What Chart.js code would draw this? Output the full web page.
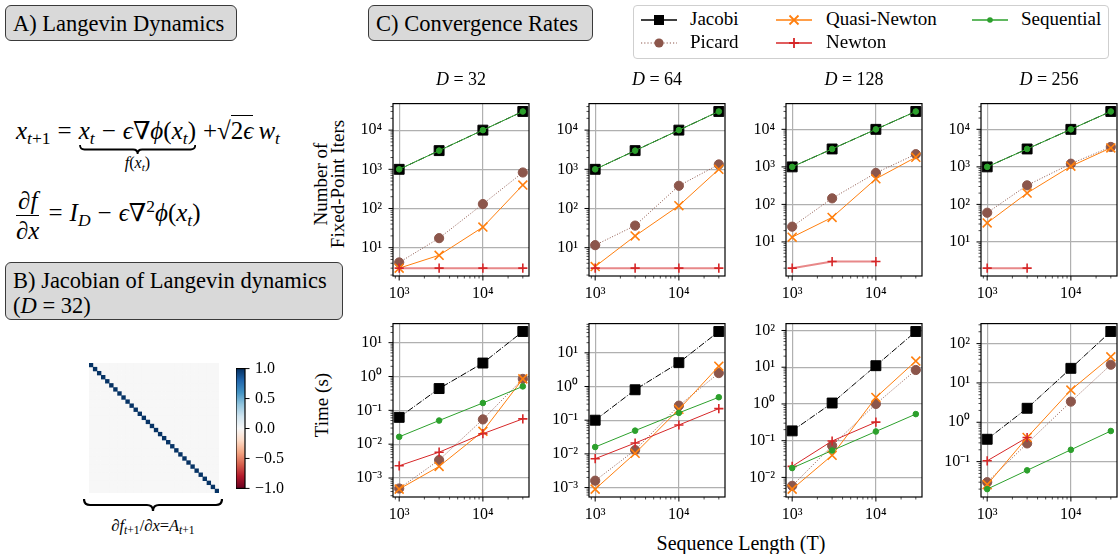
<!DOCTYPE html>
<html lang="en">
<head>
  <meta charset="UTF-8">
  <title>Langevin Dynamics - Convergence Rates</title>
  <script src="https://cdn.jsdelivr.net/npm/chart.js"></script>
  <style>
    body { margin: 0; background: #fff; }
    #fig {
      position: relative; width: 1118px; height: 554px; overflow: hidden;
      font-family: 'Liberation Serif', 'DejaVu Serif', serif; color: #000;
    }
    #fig canvas { position: absolute; }
    .tag {
      position: absolute; background: #d9d9d9; border: 1.6px solid #3a3a3a; border-radius: 6px;
      font-size: 22.5px; line-height: 25px; padding: 5px 7px 4px 7px; white-space: nowrap; box-sizing: border-box;
    }
    .txt { position: absolute; white-space: nowrap; }
    .eq { position: absolute; font-size: 25px; line-height: 28px; white-space: nowrap; }
    .op { margin: 0 0.28em; }
    sub { font-size: 70%; vertical-align: -0.28em; line-height: 0; }
    sup { font-size: 70%; vertical-align: 0.5em; line-height: 0; }
    .frac { display: inline-flex; flex-direction: column; align-items: center; vertical-align: middle; line-height: 29px; margin-right: 2px; }
    .frac .num { border-bottom: 1.3px solid #000; padding: 0 2px; }
    .ovl { border-top: 1.3px solid #000; padding-top: 1px; }
    .legend {
      position: absolute; left: 633px; top: 5px; width: 476px; height: 54px;
      border: 1px solid #cfcfcf; border-radius: 4px; box-sizing: border-box; background: #fff;
    }
    .lg-text { position: absolute; font-size: 19px; line-height: 20px; }
    .lg-icon { position: absolute; }
    .rot { position: absolute; transform: rotate(-90deg); text-align: center; font-size: 19px; line-height: 17px; }
    .title { position: absolute; font-size: 18px; text-align: center; width: 136px; }
  </style>
</head>
<body>
<div id="fig">
  <div class="tag" style="left:5px; top:5px; width:232px; height:36px;">A) Langevin Dynamics</div>
  <div class="tag" style="left:368px; top:5px; width:225px; height:36px;">C) Convergence Rates</div>
  <div class="tag" style="left:5px; top:262px; width:338px; height:58px;">B) Jacobian of Langevin dynamics<br>(<i>D</i> = 32)</div>

  <div class="eq" style="left:16px; top:117px;">
    <i>x</i><sub><i>t</i>+1</sub><span class="op">=</span><span id="ubr"><i>x</i><sub><i>t</i></sub><span class="op">−</span><i>ϵ</i>∇<i>ϕ</i>(<i>x</i><sub><i>t</i></sub>)</span><span class="op" style="margin-right:0">+</span>√<span class="ovl">2<i>ϵ</i></span>&thinsp;<i>w</i><sub><i>t</i></sub>
  </div>
  <div class="txt" id="ubrLabel" style="font-size:16px;"><i>f</i>(<i>x</i><sub><i>t</i></sub>)</div>

  <div class="eq" style="left:16px; top:186px;">
    <span class="frac"><span class="num">∂<i>f</i></span><span>∂<i>x</i></span></span><span class="op">=</span><i>I</i><sub><i>D</i></sub><span class="op">−</span><i>ϵ</i>∇<sup>2</sup><i>ϕ</i>(<i>x</i><sub><i>t</i></sub>)
  </div>

  <div class="txt" id="jacLabel" style="font-size:16.5px; left:82px; width:142px; text-align:center; top:516px;">∂<i>f</i><sub><i>t</i>+1</sub>/∂<i>x</i>=<i>A</i><sub><i>t</i>+1</sub></div>

  <div class="legend"></div>

  <div class="rot" style="left:255px; top:166px; width:150px; height:36px;">Number of<br>Fixed-Point Iters</div>
  <div class="rot" style="left:282px; top:396px; width:80px; height:18px;">Time (s)</div>
  <div class="txt" style="left:641px; top:532px; width:200px; text-align:center; font-size:20px;">Sequence Length (T)</div>
</div>

<script>
  // ---- data ----
  const seqLengths = [1000, 3000, 10000, 30000];
  const dimLabels = ['32', '64', '128', '256'];

  // number of fixed-point iterations, one row per D
  const iterJacobi = [[1000, 3000, 10000, 30000], [1000, 3000, 10000, 30000], [1000, 3000, 10000, 30000], [1000, 3000, 10000, 30000]];
  const iterPicard = [[4.2, 17.5, 130, 830], [11.6, 36.6, 380, 1330], [25.5, 145, 690, 2180], [60, 322, 1215, 3400]];
  const iterQuasi = [[3, 6.4, 33.5, 396], [3.3, 19.9, 118, 1000], [13.4, 45, 480, 1800], [32, 200, 1040, 3200]];
  const iterNewton = [[3, 3, 3, 3], [3, 3, 3, 3], [2, 3, 3, null], [2, 2, null, null]];
  const iterSequential = [[1000, 3000, 10000, 30000], [1000, 3000, 10000, 30000], [1000, 3000, 10000, 30000], [1000, 3000, 10000, 30000]];

  // wall-clock time (s), one row per D
  const timeJacobi = [[0.062, 0.44, 2.5, 21.4], [0.1, 0.8, 5.1, 43], [0.185, 1.06, 11, 94], [0.37, 2.27, 23.5, 203]];
  const timePicard = [[0.00049, 0.0034, 0.054, 0.85], [0.0016, 0.013, 0.27, 2.5], [0.0059, 0.073, 1.0, 8.4], [0.03, 0.29, 3.35, 29]];
  const timeQuasi = [[0.00047, 0.0022, 0.024, 0.85], [0.0009, 0.0104, 0.21, 4], [0.0048, 0.04, 1.5, 14.7], [0.026, 0.41, 6.6, 46]];
  const timeNewton = [[0.0023, 0.0058, 0.0204, 0.056], [0.0072, 0.021, 0.072, 0.22], [0.02, 0.098, 0.32, null], [0.105, 0.41, null, null]];
  const timeSequential = [[0.0165, 0.05, 0.165, 0.51], [0.016, 0.049, 0.165, 0.48], [0.018, 0.054, 0.178, 0.53], [0.02, 0.06, 0.2, 0.6]];

  // Jacobian diagonal (D = 32), off-diagonal entries are 0
  const jacDiag = [0.99, 0.99, 0.99, 0.99, 0.99, 1.0, 0.99, 0.99, 0.99, 0.99, 0.99, 0.99, 0.99, 0.99, 0.99, 0.99,
                   0.99, 0.99, 0.99, 0.99, 0.99, 0.99, 0.99, 0.99, 1.0, 0.99, 0.99, 0.99, 0.99, 0.99, 0.99, 0.99];
  const cbarTicks = [-1.0, -0.5, 0.0, 0.5, 1.0];

  // ---- styles ----
  const RDBU = ['#67001f', '#b2182b', '#d6604d', '#f4a582', '#fddbc7', '#f7f7f7', '#d1e5f0', '#92c5de', '#4393c3', '#2166ac', '#053061'];
  const methods = [
    { name: 'Jacobi', iters: iterJacobi, time: timeJacobi, color: '#000000', point: 'rect', r: 7, pw: 1, dash: [6.4, 1.6, 1, 1.6], order: 5 },
    { name: 'Picard', iters: iterPicard, time: timePicard, color: '#8c564b', point: 'circle', r: 4.6, pw: 1, dash: [1, 1.7], order: 4 },
    { name: 'Quasi-Newton', iters: iterQuasi, time: timeQuasi, color: '#ff7f0e', point: 'crossRot', r: 6.3, pw: 1.6, dash: [], order: 3 },
    { name: 'Newton', iters: iterNewton, time: timeNewton, color: '#d62728', point: 'cross', r: 4.6, pw: 1.6, dash: [], order: 2 },
    { name: 'Sequential', iters: iterSequential, time: timeSequential, color: '#2ca02c', point: 'circle', r: 2.8, pw: 1, dash: [], order: 1 },
  ];

  const COL_LEFT = [393, 589, 786, 981];
  const AX_W = 136;
  const ROW_TOP = [95, 315];
  const ROW_H = [181, 182];
  const FONT = 'Liberation Serif';
  const fig = document.getElementById('fig');

  const SUP = { '-': '⁻', '0': '⁰', '1': '¹', '2': '²', '3': '³', '4': '⁴', '5': '⁵', '6': '⁶', '7': '⁷', '8': '⁸', '9': '⁹' };

  function hexToRgb(h) {
    return [parseInt(h.slice(1, 3), 16), parseInt(h.slice(3, 5), 16), parseInt(h.slice(5, 7), 16)];
  }

  function rdbu(v) {
    const t = Math.max(0, Math.min(1, (v + 1) / 2)) * (RDBU.length - 1);
    const i = Math.min(Math.floor(t), RDBU.length - 2), f = t - i;
    const a = hexToRgb(RDBU[i]), b = hexToRgb(RDBU[i + 1]);
    return 'rgb(' + a.map((c, k) => Math.round(c + (b[k] - c) * f)).join(',') + ')';
  }

  function logLimits(values) {
    const logs = values.map(Math.log10);
    const lo = Math.min(...logs), hi = Math.max(...logs), pad = 0.05 * (hi - lo);
    return [Math.pow(10, lo - pad), Math.pow(10, hi + pad)];
  }

  function decadeTicks(scale) {
    const lo = Math.floor(Math.log10(scale.min)), hi = Math.ceil(Math.log10(scale.max));
    const ticks = [];
    for (let e = lo; e <= hi; e++) {
      for (let m = 1; m <= 9; m++) {
        const v = parseFloat((m * Math.pow(10, e)).toPrecision(6));
        if (v >= scale.min && v <= scale.max) ticks.push({ value: v, major: m === 1 });
      }
    }
    scale.ticks = ticks;
  }

  function powLabel(value, i, ticks) {
    if (!ticks[i].major) return '';
    const e = Math.round(Math.log10(value));
    return '10' + String(e).split('').map(c => SUP[c]).join('');
  }

  // axes frame + outward tick marks (major longer than minor)
  const framePlugin = {
    id: 'frame',
    afterDraw(chart) {
      const { ctx, chartArea: a, scales } = chart;
      ctx.save();
      ctx.strokeStyle = '#000';
      Object.values(scales).forEach(s => {
        if (!s.options.display || s.type === 'category') return;
        s.ticks.forEach(t => {
          const p = s.getPixelForValue(t.value);
          const len = t.major ? 4.5 : 2.5;
          ctx.lineWidth = t.major ? 1 : 0.7;
          ctx.beginPath();
          if (s.position === 'bottom') { ctx.moveTo(p, a.bottom); ctx.lineTo(p, a.bottom + len); }
          else if (s.position === 'left') { ctx.moveTo(a.left, p); ctx.lineTo(a.left - len, p); }
          else { ctx.moveTo(a.right, p); ctx.lineTo(a.right + len, p); }
          ctx.stroke();
        });
      });
      ctx.lineWidth = 1.2;
      ctx.strokeRect(a.left, a.top, a.right - a.left, a.bottom - a.top);
      ctx.restore();
    }
  };

  function logAxis(min, max, isY, size) {
    return {
      type: 'logarithmic', min, max, position: isY ? 'left' : 'bottom',
      afterBuildTicks: decadeTicks,
      afterFit: s => { if (isY) s.width = size; else s.height = size; },
      border: { display: false },
      grid: {
        color: c => (c.tick && c.tick.major ? '#b0b0b0' : 'rgba(0,0,0,0)'),
        lineWidth: 1.2,
        drawTicks: false,
      },
      ticks: {
        autoSkip: false, maxRotation: 0, minRotation: 0,
        padding: isY ? 11 : 8, color: '#000',
        font: { family: FONT, size: 16 },
        callback: powLabel,
      },
    };
  }

  function addCanvas(left, top, w, h) {
    const cv = document.createElement('canvas');
    cv.width = w; cv.height = h;
    cv.style.left = left + 'px'; cv.style.top = top + 'px';
    cv.style.width = w + 'px'; cv.style.height = h + 'px';
    fig.appendChild(cv);
    return cv;
  }

  function seriesPoints(vals) {
    return seqLengths.map((t, i) => ({ x: t, y: vals[i] })).filter(p => p.y !== null);
  }

  function makePanel(col, row) {
    const YW = 56, PT = 12, PR = 12, XH = 32;
    const w = AX_W, h = ROW_H[row];
    const cv = addCanvas(COL_LEFT[col] - YW, ROW_TOP[row] - PT, w + YW + PR, h + PT + XH);
    const key = row === 0 ? 'iters' : 'time';

    const datasets = methods.map(m => {
      const faded = row === 0 && m.name === 'Newton';
      return {
        label: m.name,
        data: seriesPoints(m[key][col]),
        borderColor: faded ? 'rgba(214,39,40,0.55)' : m.color,
        borderWidth: faded ? 2 : 1,
        borderDash: m.dash,
        pointStyle: m.point,
        pointRadius: m.r,
        pointBorderWidth: m.pw,
        pointBackgroundColor: m.color,
        pointBorderColor: m.color,
        order: m.order,
        tension: 0,
      };
    });

    const allY = datasets.flatMap(d => d.data.map(p => p.y));
    const [ymin, ymax] = logLimits(allY);
    const [xmin, xmax] = logLimits(seqLengths);

    new Chart(cv, {
      type: 'line',
      data: { datasets },
      options: {
        responsive: false, animation: false, events: [],
        layout: { padding: { top: PT, right: PR, left: 0, bottom: 0 } },
        plugins: { legend: { display: false }, tooltip: { enabled: false } },
        scales: {
          x: logAxis(xmin, xmax, false, XH),
          y: logAxis(ymin, ymax, true, YW),
        },
      },
      plugins: [framePlugin],
    });
  }

  function makeHeatmap() {
    const N = jacDiag.length;
    const cv = addCanvas(85, 359, 138, 138);
    const cell = 138 / N;
    const offDiag = [], diag = [];
    for (let i = 0; i < N; i++) {
      for (let j = 0; j < N; j++) {
        if (i === j) diag.push({ x: j, y: i, v: jacDiag[i] });
        else offDiag.push({ x: j, y: i, v: 0 });
      }
    }
    const cellSet = (data, r, order) => ({
      data, pointStyle: 'rect', pointRadius: r, pointBorderWidth: 0, showLine: false, order,
      pointBackgroundColor: c => rdbu(c.raw.v), pointBorderColor: 'rgba(0,0,0,0)',
    });
    new Chart(cv, {
      type: 'scatter',
      data: { datasets: [cellSet(offDiag, cell * 0.75, 2), cellSet(diag, cell * 0.72, 1)] },
      options: {
        responsive: false, animation: false, events: [],
        layout: { padding: 0 },
        plugins: { legend: { display: false }, tooltip: { enabled: false } },
        scales: {
          x: { type: 'linear', min: -0.5, max: N - 0.5, display: false },
          y: { type: 'linear', min: -0.5, max: N - 0.5, reverse: true, display: false },
        },
      },
    });
  }

  function makeColorbar() {
    const cv = addCanvas(236, 349, 9 + 60, 139 + 20);
    new Chart(cv, {
      type: 'bar',
      data: {
        labels: [''],
        datasets: [{
          data: [[cbarTicks[0], cbarTicks[cbarTicks.length - 1]]],
          barPercentage: 1, categoryPercentage: 1, borderWidth: 0, borderSkipped: false,
          backgroundColor: c => {
            const a = c.chart.chartArea;
            if (!a) return '#f7f7f7';
            const g = c.chart.ctx.createLinearGradient(0, a.bottom, 0, a.top);
            RDBU.forEach((col, i) => g.addColorStop(i / (RDBU.length - 1), col));
            return g;
          },
        }],
      },
      options: {
        responsive: false, animation: false, events: [],
        layout: { padding: { top: 10, bottom: 10, left: 0, right: 0 } },
        plugins: { legend: { display: false }, tooltip: { enabled: false } },
        scales: {
          x: { display: false },
          y: {
            position: 'right', min: cbarTicks[0], max: cbarTicks[cbarTicks.length - 1],
            afterBuildTicks: s => { s.ticks = cbarTicks.map(v => ({ value: v, major: true })); },
            afterFit: s => { s.width = 60; },
            border: { display: false },
            grid: { drawOnChartArea: false, drawTicks: false },
            ticks: {
              padding: 10, color: '#000', font: { family: FONT, size: 16 },
              callback: v => (v < 0 ? '−' : '') + Math.abs(v).toFixed(1),
            },
          },
        },
      },
      plugins: [framePlugin],
    });
  }

  function bracePath(w, h) {
    const m = w / 2, r = Math.min(h / 2, 7), y = h / 2;
    return `M1,0 Q1,${y} ${1 + r},${y} L${m - r},${y} Q${m},${y} ${m},${h} Q${m},${y} ${m + r},${y} L${w - 1 - r},${y} Q${w - 1},${y} ${w - 1},0`;
  }

  function addBrace(left, top, w, h, sw) {
    const ns = 'http://www.w3.org/2000/svg';
    const svg = document.createElementNS(ns, 'svg');
    svg.setAttribute('width', w); svg.setAttribute('height', h + 1);
    svg.style.position = 'absolute'; svg.style.left = left + 'px'; svg.style.top = top + 'px';
    const p = document.createElementNS(ns, 'path');
    p.setAttribute('d', bracePath(w, h));
    p.setAttribute('fill', 'none'); p.setAttribute('stroke', '#000'); p.setAttribute('stroke-width', sw);
    svg.appendChild(p);
    fig.appendChild(svg);
  }

  function legendIcon(m, left, top) {
    const ns = 'http://www.w3.org/2000/svg';
    const svg = document.createElementNS(ns, 'svg');
    svg.setAttribute('width', 36); svg.setAttribute('height', 20);
    svg.setAttribute('class', 'lg-icon');
    svg.style.left = left + 'px'; svg.style.top = top + 'px';
    let s = `<line x1="0" y1="10" x2="36" y2="10" stroke="${m.color}" stroke-width="${m.name === 'Picard' ? 1.2 : 1.6}"` +
      (m.name === 'Picard' ? ' stroke-dasharray="1.2 2"' : '') + '/>';
    if (m.point === 'rect') s += `<rect x="13" y="5" width="10" height="10" fill="${m.color}"/>`;
    else if (m.point === 'circle') s += `<circle cx="18" cy="10" r="${m.r}" fill="${m.color}"/>`;
    else if (m.point === 'crossRot') s += `<path d="M13.5,5.5 L22.5,14.5 M22.5,5.5 L13.5,14.5" stroke="${m.color}" stroke-width="1.8"/>`;
    else s += `<path d="M18,5 L18,15 M13,10 L23,10" stroke="${m.color}" stroke-width="1.8"/>`;
    svg.innerHTML = s;
    fig.appendChild(svg);
  }

  function buildLegend() {
    // column-major placement like the original (2 rows)
    const colX = [641, 776, 972], textX = [690, 826, 1021], rowY = [20, 43];
    methods.forEach((m, k) => {
      const c = Math.floor(k / 2), r = k % 2;
      legendIcon(m, colX[c], rowY[r] - 10);
      const t = document.createElement('div');
      t.className = 'lg-text';
      t.style.left = textX[c] + 'px'; t.style.top = (rowY[r] - 11) + 'px';
      t.textContent = m.name;
      fig.appendChild(t);
    });
  }

  function buildTitles() {
    dimLabels.forEach((d, c) => {
      const t = document.createElement('div');
      t.className = 'title';
      t.style.left = COL_LEFT[c] + 'px'; t.style.top = '69px';
      t.innerHTML = '<i>D</i> = ' + d;
      fig.appendChild(t);
    });
  }

  function placeEquationBrace() {
    const fr = fig.getBoundingClientRect();
    const r = document.getElementById('ubr').getBoundingClientRect();
    const left = r.left - fr.left, w = r.width, top = r.bottom - fr.top + 1;
    addBrace(left, top, w, 9, 1.8);
    const lab = document.getElementById('ubrLabel');
    lab.style.left = (left + w / 2 - lab.offsetWidth / 2) + 'px';
    lab.style.top = (top + 9) + 'px';
  }

  for (let row = 0; row < 2; row++) for (let col = 0; col < 4; col++) makePanel(col, row);
  makeHeatmap();
  makeColorbar();
  addBrace(83, 499, 140, 12, 2.2);
  buildLegend();
  buildTitles();
  placeEquationBrace();
</script>
</body>
</html>
